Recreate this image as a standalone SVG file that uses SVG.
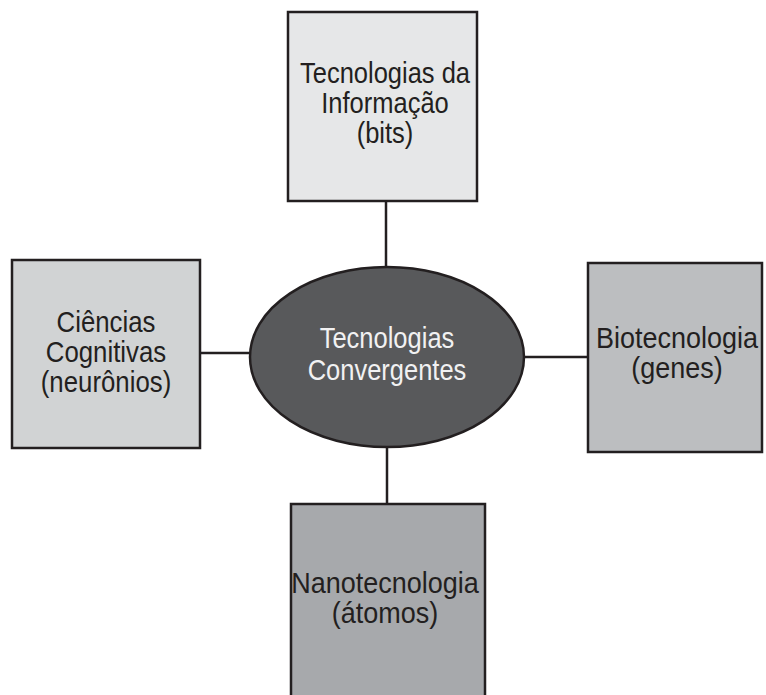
<svg xmlns="http://www.w3.org/2000/svg" width="766" height="695" viewBox="0 0 766 695">
<style>
.box{stroke:#231f20;stroke-width:2.5}
.t{font-family:"Liberation Sans",Arial,sans-serif;font-size:30px;fill:#231f20;text-anchor:middle}
.w{fill:#f1f1f2}
.c{stroke:#231f20;stroke-width:2.5;fill:none}
</style>
<rect width="766" height="695" fill="#ffffff"/>
<g id="connectors">
<line class="c" x1="386" y1="201" x2="386" y2="267"/>
<line class="c" x1="200" y1="353" x2="250" y2="353"/>
<line class="c" x1="524" y1="357" x2="588" y2="357"/>
<line class="c" x1="387" y1="448" x2="387" y2="504"/>
</g>
<g id="info">
<rect class="box" x="288" y="12" width="189" height="189" fill="#e6e7e8"/>
<text class="t" transform="translate(385 83) scale(0.85 1)">Tecnologias da</text>
<text class="t" transform="translate(385 113) scale(0.85 1)">Informação</text>
<text class="t" transform="translate(385 143) scale(0.85 1)">(bits)</text>
</g>
<g id="cognitivas">
<rect class="box" x="12" y="260" width="188" height="188" fill="#d1d3d4"/>
<text class="t" transform="translate(106 332) scale(0.86 1)">Ciências</text>
<text class="t" transform="translate(106 362) scale(0.86 1)">Cognitivas</text>
<text class="t" transform="translate(106 392) scale(0.86 1)">(neurônios)</text>
</g>
<g id="biotecnologia">
<rect class="box" x="588" y="263" width="174" height="189" fill="#bcbec0"/>
<text class="t" transform="translate(677 348) scale(0.9 1)">Biotecnologia</text>
<text class="t" transform="translate(677 378) scale(0.9 1)">(genes)</text>
</g>
<g id="nanotecnologia">
<rect class="box" x="291" y="504" width="194" height="200" fill="#a7a9ac"/>
<text class="t" transform="translate(385 593) scale(0.9 1)">Nanotecnologia</text>
<text class="t" transform="translate(385 623) scale(0.9 1)">(átomos)</text>
</g>
<g id="convergentes">
<ellipse class="box" cx="387" cy="357" rx="137" ry="90" fill="#58595b"/>
<text class="t w" transform="translate(387 348) scale(0.85 1)">Tecnologias</text>
<text class="t w" transform="translate(387 380) scale(0.85 1)">Convergentes</text>
</g>
</svg>
